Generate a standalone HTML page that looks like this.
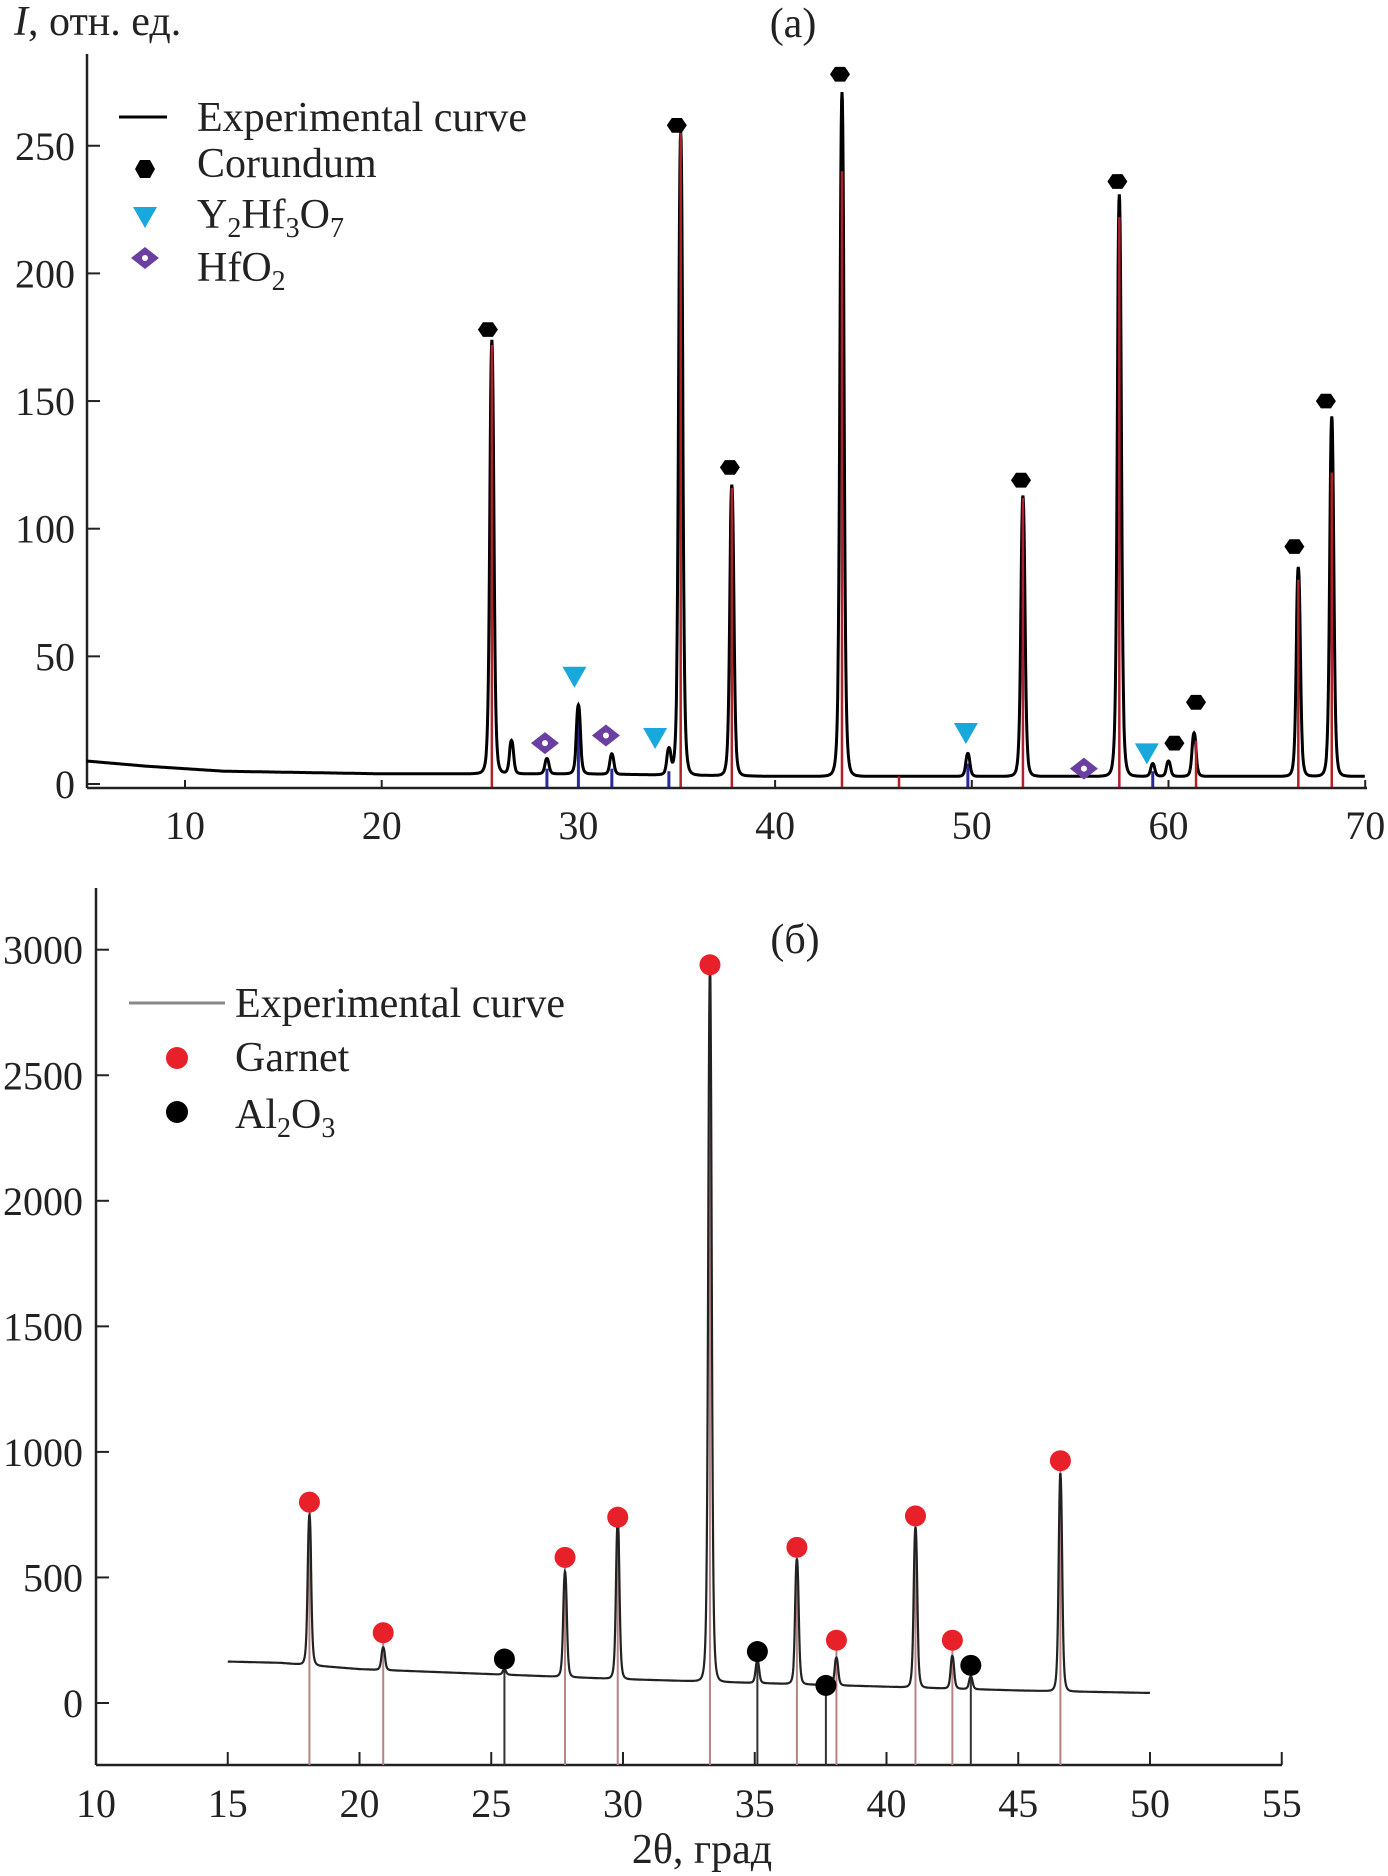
<!DOCTYPE html>
<html><head><meta charset="utf-8">
<style>
html,body{margin:0;padding:0;background:#fff;}
svg{display:block;}
text{font-family:"Liberation Serif","Noto Serif CJK SC",serif;fill:#222;}
</style></head>
<body>
<svg id="fig" width="1388" height="1876" viewBox="0 0 1388 1876" xmlns="http://www.w3.org/2000/svg">
<g id="top"></g>
<g id="bot"></g>
</svg>
<script>
// ---------- Panel (a) data ----------
const aXTicks = [10,20,30,40,50,60,70];
const aYTicks = [0,50,100,150,200,250];
const aBgX = [5,8,12,20,25,30,40,50,60,70];
const aBgY = [9,7,5,4,4,4,3,3,3,3];
const aPeakPos = [25.6,26.6,28.4,30.0,31.7,34.6,35.2,37.8,43.4,49.8,52.6,57.5,59.2,60.0,61.3,66.6,68.3];
const aPeakH   = [170,13,6,27,8,10,252,114,268,9,110,228,5,6,17,82,141];
const aCorX = [25.4,35.0,37.7,43.3,52.5,57.4,60.3,61.4,66.4,68.0];
const aCorY = [178,258,124,278,119,236,16,32,93,150];
const aCorStickX = [25.6,35.2,37.8,43.4,46.3,52.6,57.5,61.4,66.6,68.3];
const aCorStickH = [172,255,116,240,3,112,222,17,80,122];
const aYhX = [29.8,33.9,49.7,58.9];
const aYhY = [42,18,20,12];
const aHfX = [28.3,31.4,55.7];
const aHfY = [16,19,6];
const aBlueStickX = [28.4,30.0,31.7,34.6,49.8,59.2];
const aBlueStickH = [6,25,6,5,8,5];

// ---------- Panel (b) data ----------
const bXTicks = [10,15,20,25,30,35,40,45,50,55];
const bYTicks = [0,500,1000,1500,2000,2500,3000];
const bBgX = [15,17,20,25,30,35,40,45,50];
const bBgY = [165,160,135,115,95,80,65,50,40];
const bPeakPos = [18.1,20.9,25.5,27.8,29.8,33.3,35.1,36.6,38.1,41.1,42.5,43.2,46.6];
const bPeakH   = [600,90,20,420,630,2850,90,500,110,640,130,50,870];
const bGarX = [18.1,20.9,27.8,29.8,33.3,36.6,38.1,41.1,42.5,46.6];
const bGarY = [800,280,580,740,2940,620,250,745,250,965];
const bAlX = [25.5,35.1,37.7,43.2];
const bAlY = [175,205,70,150];

const NS="http://www.w3.org/2000/svg";
function mk(parent,tag,attrs){const e=document.createElementNS(NS,tag);for(const k in attrs)e.setAttribute(k,attrs[k]);parent.appendChild(e);return e;}
function interp(xs,ys,x){if(x<=xs[0])return ys[0];for(let i=1;i<xs.length;i++){if(x<=xs[i]){const t=(x-xs[i-1])/(xs[i]-xs[i-1]);return ys[i-1]+t*(ys[i]-ys[i-1]);}}return ys[ys.length-1];}
function curve(bx,by,pp,ph,w,x){let y=interp(bx,by,x);for(let i=0;i<pp.length;i++){const d=(x-pp[i])/w;y+=ph[i]/(1+d*d*d*d+0.6*d*d);}return y;}

// ---------- Panel (a) ----------
(function(){
const g=document.getElementById('top');
const X=v=>185+(v-10)*19.67, Y=v=>784-v*2.553;
let e=mk(g,'line',{x1:87,y1:54,x2:87,y2:788,stroke:'#222','stroke-width':2.5});

e=mk(g,'line',{x1:87,y1:788,x2:1367,y2:788,stroke:'#222','stroke-width':2.5});

aXTicks.forEach(t=>{mk(g,'line',{x1:X(t),y1:788,x2:X(t),y2:780,stroke:'#222','stroke-width':2});
 const tx=mk(g,'text',{x:X(t),y:839,'font-size':40,'text-anchor':'middle'});tx.textContent=t;
 });
aYTicks.forEach(t=>{mk(g,'line',{x1:87,y1:Y(t),x2:100,y2:Y(t),stroke:'#222','stroke-width':2});
 const tx=mk(g,'text',{x:75,y:Y(t)+14,'font-size':40,'text-anchor':'end'});tx.textContent=t;
 });
aBlueStickX.forEach((v,i)=>{const s=mk(g,'line',{x1:X(v),y1:Y(0)+3,x2:X(v),y2:Y(aBlueStickH[i]),stroke:'#2a2a9a','stroke-width':3});
 });
let d='';for(let x=5;x<=70;x+=0.02){d+=(d?'L':'M')+X(x).toFixed(1)+','+Y(curve(aBgX,aBgY,aPeakPos,aPeakH,0.14,x)).toFixed(1);}
e=mk(g,'path',{d:d,fill:'none',stroke:'#000','stroke-width':3});

aCorStickX.forEach((v,i)=>{const s=mk(g,'line',{x1:X(v),y1:Y(0)+3,x2:X(v),y2:Y(aCorStickH[i]),stroke:'#b0202a','stroke-width':2.5});
 });
function hex(cx,cy,r){let p=[];for(let k=0;k<6;k++){const a=Math.PI/3*k;p.push((cx+r*Math.cos(a)).toFixed(1)+','+(cy+r*0.85*Math.sin(a)).toFixed(1));}return p.join(' ');}
aCorX.forEach((v,i)=>{const m=mk(g,'polygon',{points:hex(X(v),Y(aCorY[i]),10),fill:'#000'});
 });
aYhX.forEach((v,i)=>{const cx=X(v),cy=Y(aYhY[i]);const m=mk(g,'polygon',{points:`${cx-12},${cy-10} ${cx+12},${cy-10} ${cx},${cy+11}`,fill:'#18a8dc'});
 });
aHfX.forEach((v,i)=>{const cx=X(v),cy=Y(aHfY[i]);const m=mk(g,'polygon',{points:`${cx-14},${cy} ${cx},${cy-11} ${cx+14},${cy} ${cx},${cy+11}`,fill:'#6a3fa0'});
 
 mk(g,'circle',{cx:cx,cy:cy,r:3,fill:'#fff'});});
})();

// ---------- Panel (b) ----------
(function(){
const g=document.getElementById('bot');
const X=v=>96+(v-10)*26.35, Y=v=>1703-v*0.2511;
let e=mk(g,'line',{x1:96,y1:888,x2:96,y2:1765,stroke:'#222','stroke-width':2.5});

e=mk(g,'line',{x1:96,y1:1765,x2:1282,y2:1765,stroke:'#222','stroke-width':2.5});

bXTicks.forEach(t=>{mk(g,'line',{x1:X(t),y1:1765,x2:X(t),y2:1752,stroke:'#222','stroke-width':2});
 const tx=mk(g,'text',{x:X(t),y:1817,'font-size':40,'text-anchor':'middle'});tx.textContent=t;
 });
bYTicks.forEach(t=>{mk(g,'line',{x1:96,y1:Y(t),x2:109,y2:Y(t),stroke:'#222','stroke-width':2});
 const tx=mk(g,'text',{x:83,y:Y(t)+14,'font-size':40,'text-anchor':'end'});tx.textContent=t;
 });
bGarX.forEach((v,i)=>{const s=mk(g,'line',{x1:X(v),y1:1765,x2:X(v),y2:Y(bGarY[i]),stroke:'#b48484','stroke-width':2});
 });
bAlX.forEach((v,i)=>{const s=mk(g,'line',{x1:X(v),y1:1765,x2:X(v),y2:Y(bAlY[i]),stroke:'#333','stroke-width':2});
 });
let d='';for(let x=15;x<=50;x+=0.015){d+=(d?'L':'M')+X(x).toFixed(1)+','+Y(curve(bBgX,bBgY,bPeakPos,bPeakH,0.09,x)).toFixed(1);}
e=mk(g,'path',{d:d,fill:'none',stroke:'#222','stroke-width':2.2});

bGarX.forEach((v,i)=>{const m=mk(g,'circle',{cx:X(v),cy:Y(bGarY[i]),r:10.5,fill:'#e8202a'});
 });
bAlX.forEach((v,i)=>{const m=mk(g,'circle',{cx:X(v),cy:Y(bAlY[i]),r:10.5,fill:'#000'});
 });
})();

(function(){
const s=document.getElementById('fig');
s.insertAdjacentHTML('beforeend',`
<text x="14" y="35" font-size="42"><tspan font-style="italic">I</tspan>, отн. ед.</text>
<text x="793" y="37" font-size="42" text-anchor="middle">(a)</text>
<g>
 <line x1="119" y1="117" x2="167" y2="117" stroke="#000" stroke-width="3"/>
 <text x="197" y="131" font-size="42">Experimental curve</text>
 <polygon points="155,169 150,178 140,178 135,169 140,160 150,160" fill="#000"/>
 <text x="197" y="177" font-size="42">Corundum</text>
 <polygon points="133,207 157,207 145,228" fill="#18a8dc"/>
 <text x="197" y="228" font-size="42">Y<tspan font-size="28" dy="9">2</tspan><tspan dy="-9">Hf</tspan><tspan font-size="28" dy="9">3</tspan><tspan dy="-9">O</tspan><tspan font-size="28" dy="9">7</tspan></text>
 <polygon points="131,258 145,247 159,258 145,269" fill="#6a3fa0"/><circle cx="145" cy="258" r="3" fill="#fff"/>
 <text x="197" y="281" font-size="42">HfO<tspan font-size="28" dy="9">2</tspan></text>
</g>
<text x="795" y="953" font-size="42" text-anchor="middle">(б)</text>
<g>
 <line x1="129" y1="1003" x2="225" y2="1003" stroke="#888" stroke-width="3"/>
 <text x="235" y="1017" font-size="42">Experimental curve</text>
 <circle cx="177" cy="1058" r="11" fill="#e8202a"/>
 <text x="235" y="1071" font-size="42">Garnet</text>
 <circle cx="177" cy="1112" r="11" fill="#000"/>
 <text x="235" y="1128" font-size="42">Al<tspan font-size="28" dy="9">2</tspan><tspan dy="-9">O</tspan><tspan font-size="28" dy="9">3</tspan></text>
</g>
<text x="702" y="1863" font-size="42" text-anchor="middle">2θ, град</text>
`);
})();
</script>
</body></html>
